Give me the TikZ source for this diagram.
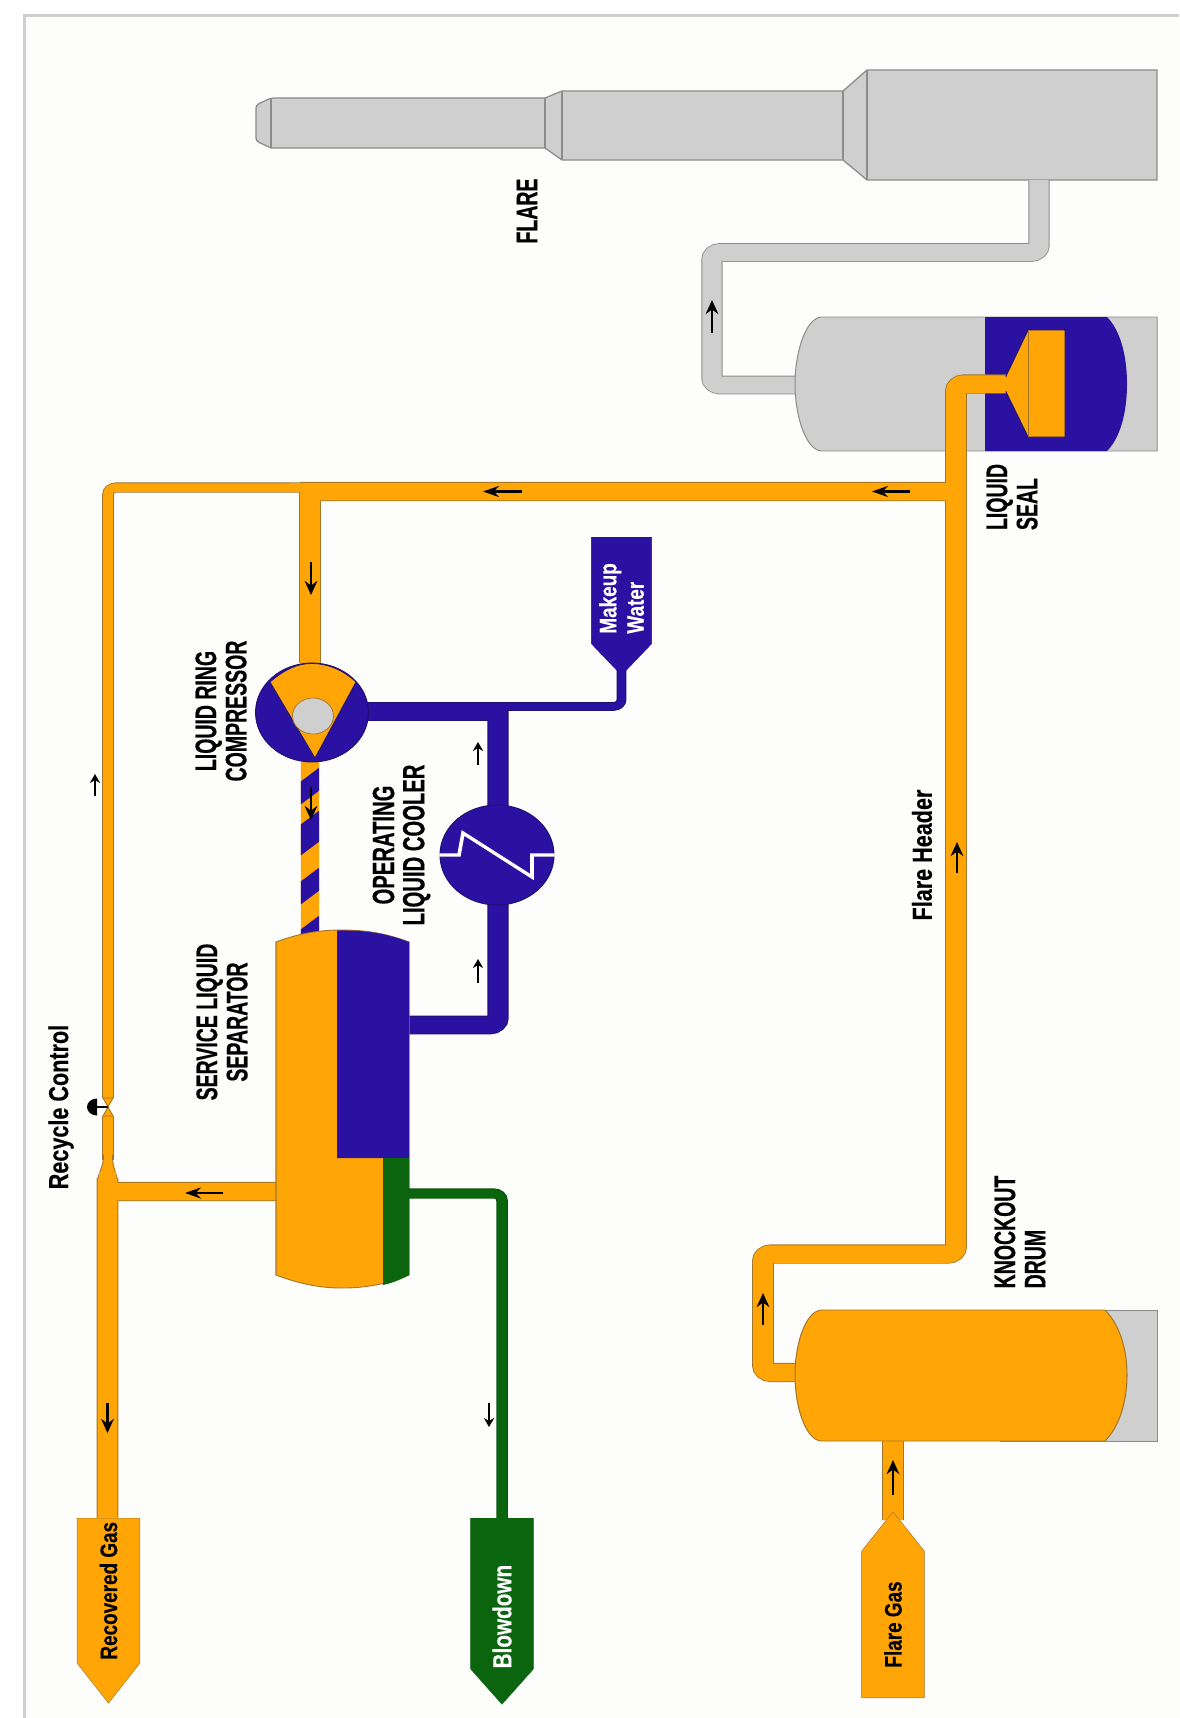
\documentclass[tikz,border=0pt]{standalone}
\usepackage{fontspec}
\usepackage{tikz}
\usetikzlibrary{arrows.meta,calc,shapes.symbols}
\newfontfamily\capsfont{Liberation Sans}[FakeStretch=.75,FakeBold=.5]
\newfontfamily\namefont{Liberation Sans}[FakeStretch=.9,FakeBold=.3]
\definecolor{gasorange}{HTML}{FFA505}
\definecolor{gasedge}{HTML}{A0762A}
\definecolor{waterblue}{HTML}{2A11A2}
\definecolor{wateredge}{HTML}{1E1070}
\definecolor{drainpipe}{HTML}{0B650F}
\definecolor{steelgrey}{HTML}{CFCFCF}
\definecolor{steeledge}{HTML}{8C8C8C}
\definecolor{paper}{HTML}{FDFDFB}
\begin{document}
\begin{tikzpicture}[
  x=1pt, y=-1pt,
  vessel/.style={fill=#1, line width=.9pt},
  pipe/.style n args={3}{line width=#1, draw=#2, rounded corners=7pt,
                         preaction={draw=#3, line width=#1+1.6pt}},
  gaspipe/.style={pipe={#1}{gasorange}{gasedge}},
  flow/.style={-{Stealth[length=14pt,width=11pt]}, line width=2.4pt, black},
  sideflow/.style={-{Stealth[length=9pt,width=9pt]}, line width=2pt, black},
  caption/.style={rotate=90, align=center, inner sep=0pt,
                  font=\capsfont\bfseries\fontsize{26}{26.5}\selectfont},
  tagline/.style={rotate=90, inner sep=0pt,
                  font=\namefont\bfseries\fontsize{24}{26}\selectfont},
  terminal/.style={signal, rotate=90, inner sep=0pt, minimum height=55pt,
                   draw=#1, align=center,
                   font=\namefont\bfseries\fontsize{21}{24}\selectfont},
]
\useasboundingbox (0,0) rectangle (1179,1718);
\fill[white] (0,0) rectangle (1179,1718);
\fill[paper] (24,16) rectangle (1179,1718);
\draw[steelgrey, line width=3pt] (24,1718) -- (24,16) -- (1179,16);

\begin{scope}[transform canvas={xscale=1.14}, x=0.8772pt]
\coordinate (flarefoot) at (1039,180);
\coordinate (sealout) at (795,385);
\coordinate (sealin) at (1010,384);
\coordinate (drumout) at (795,1372.5);
\coordinate (drumin) at (893,1441);
\coordinate (headertee) at (956,491.5);
\coordinate (suction) at (310,663);
\coordinate (sepwater) at (409,1025);
\coordinate (sepgas) at (276,1191.5);
\coordinate (sepdrain) at (409,1193.5);
\coordinate (recyclegap) at (108,1107);

% flare stack
\draw[vessel=steelgrey, draw=steeledge, line width=1.2pt]
  [rounded corners=3pt] (271,148) -- (256,141) -- (256,105) -- (271,98) [sharp corners]
  -- (545,98) -- (562,91) -- (843,91) -- (867,70)
  -- (1157,70) -- (1157,180) -- (867,180) -- (843,160) -- (562,160)
  -- (545,148) -- cycle;
\draw[steeledge, line width=1pt] (271,98) -- (271,148) (545,98) -- (545,148)
  (562,91) -- (562,160) (843,91) -- (843,160) (867,70) -- (867,180);

% grey line and liquid seal
\draw[pipe={17pt}{steelgrey}{steeledge}] (flarefoot) |- (712,252.5) |- (sealout);
\draw[vessel=steelgrey, draw=steeledge] (1157,317) -- (822,317)
  .. controls (806,317) and (795,352) .. (795,384)
  .. controls (795,416) and (806,451) .. (822,451) -- (1157,451) -- cycle;
\fill[waterblue] (985,317) -- (1107,317)
  .. controls (1120,330) and (1127,355) .. (1127,384)
  .. controls (1127,413) and (1120,438) .. (1107,451) -- (985,451) -- cycle;

% thin recycle line and valve
\draw[gaspipe=8.5pt] (310,487.5) -| (recyclegap |- 0,1098);
\draw[gaspipe=8.5pt] (recyclegap |- 0,1116) -- (108,1160);
\filldraw[draw=gasedge, fill=gasorange, line width=.8pt]
  (103,1098) -- (108,1107) -- (113,1098) -- cycle
  (103,1116) -- (108,1107) -- (113,1116) -- cycle;
\draw[black, line width=1.6pt] (recyclegap) -- (97,1107);
\fill[black] (97,1115.5) arc[start angle=90, end angle=270, x radius=10, y radius=8.5] -- cycle;

% flare header and gas lines
\draw[gaspipe=17.5pt]
  (drumout) -| (763,1254) -| (headertee |- sealin) -- (sealin)
  (headertee) -- (300,491.5)
  (310,483) -- (suction)
  (107.5,1178) -- (107.5,1518)
  (107.5,1191.5) -- (sepgas)
  (drumin) -- (893,1520);
\draw[gasorange, line width=8.5pt] (310,487.5) -- (290,487.5);
\filldraw[draw=gasedge, fill=gasorange, line width=.8pt]
  (103.6,1155) .. controls (103.6,1165) and (100,1170) .. (98,1178)
  -- (117,1178) .. controls (115,1170) and (112.4,1165) .. (112.4,1155) -- cycle;
\fill[gasorange] (98.6,1172) rectangle (116.4,1184);
\fill[gasorange] (104,1150) rectangle (112,1160);

% liquid bell
\filldraw[draw=wateredge, fill=gasorange, line width=.9pt]
  (1006,376) -- (1028,330) -- (1065,330) -- (1065,437) -- (1028,437) -- (1006,392) -- cycle;
\draw[gasedge, line width=.7pt] (1028,330) -- (1028,437);
\fill[gasorange] (990,377) rectangle (1010,391);

% water side
\draw[pipe={7pt}{waterblue}{wateredge}] (498,706.5) -| (621.5,650);
\draw[pipe={17pt}{waterblue}{wateredge}]
  (340,711.5) -- (498,711.5)
  (498,703) -- (498,1025) -- (sepwater);
\draw[waterblue, line width=7pt] (498,706.5) -- (515,706.5);

% striped discharge
\begin{scope}
\clip (300.8,762) rectangle (319.2,935);
\fill[gasorange] (300,762) rectangle (320,935);
\foreach \upper/\lower in {782/805, 825/856, 882/905, 930/950}
  \fill[waterblue] (300,\upper) -- (320,\upper-15) -- (320,\lower-15) -- (300,\lower) -- cycle;
\end{scope}

% separator
\draw[vessel=gasorange, draw=gasedge] (276,942)
  .. controls (300,933) and (320,930) .. (342,930)
  .. controls (365,930) and (385,933) .. (409,942) -- (409,1275)
  .. controls (388,1284) and (365,1288) .. (342,1288)
  .. controls (320,1288) and (300,1284) .. (276,1275) -- cycle;
\fill[waterblue] (337,930.5) .. controls (365,930) and (385,933) .. (409,942)
  -- (409,1158) -- (337,1158) -- cycle;
\fill[drainpipe] (383,1158) -- (409,1158) -- (409,1275)
  .. controls (400,1280) and (392,1283) .. (383,1285) -- cycle;

% blowdown
\draw[pipe={8.5pt}{drainpipe}{drainpipe!80!black}] (sepdrain) -| (502,1520);

% compressor
\node[circle, minimum size=99pt, inner sep=0pt, draw=wateredge, fill=waterblue,
      line width=.9pt] (compressor) at (312,712.5) {};
\filldraw[draw=wateredge, fill=gasorange, line width=.7pt] (270,682)
  .. controls (285,669) and (298,663.5) .. (312,663.5)
  .. controls (326,663.5) and (342,669) .. (356,682) -- (315,758) -- cycle;
\node[circle, minimum size=36pt, inner sep=0pt, draw=gasedge, fill=steelgrey,
      line width=.7pt] (shaft) at (313,716) {};

% cooler
\node[circle, minimum size=100pt, inner sep=0pt, draw=wateredge, fill=waterblue,
      line width=.9pt] (cooler) at (497,855) {};
\draw[white, line width=3.2pt] (cooler.west) -- (459,855) -- (463,833)
  -- (532,877) -- (532,855) -- (cooler.east);

% knockout drum
\draw[vessel=steelgrey, draw=steeledge] (1000,1310) rectangle (1157,1441);
\draw[vessel=gasorange, draw=gasedge] (822,1310) -- (1105,1310)
  .. controls (1120,1325) and (1127,1350) .. (1127,1375)
  .. controls (1127,1400) and (1120,1426) .. (1105,1441) -- (822,1441)
  .. controls (806,1441) and (795,1408) .. (795,1375)
  .. controls (795,1343) and (806,1310) .. (822,1310) -- cycle;

% end terminals
\node[terminal=gasedge, fill=gasorange, signal to=west, signal pointer angle=69,
      minimum width=185pt, anchor=east] (recovered) at (108.5,1518) {Recovered Gas};
\node[terminal=drainpipe, fill=drainpipe, text=white, signal to=west,
      signal pointer angle=76, minimum width=186pt, anchor=east,
      font=\namefont\bfseries\fontsize{23}{24}\selectfont] (blowdown)
      at (502,1518) {Blowdown\hspace*{46pt}};
\node[terminal=gasedge, fill=gasorange, signal to=east, signal pointer angle=70,
      minimum width=186pt, anchor=west] (flaregas) at (893,1698) {Flare Gas};
\node[terminal=waterblue, fill=waterblue, text=white, signal to=west, align=left,
      signal pointer angle=80, minimum width=138pt, minimum height=53pt, anchor=east]
      (makeup) at (621.5,537) {Makeup\hspace*{16pt}\\Water};

% flow arrows
\draw[flow] (522,491.5) -- (483,491.5);
\draw[flow] (910,491.5) -- (872,491.5);
\draw[flow] (311,562) -- (311,595);
\draw[flow] (311,787) -- (311,820);
\draw[sideflow] (478,765) -- (478,742);
\draw[sideflow] (478,983) -- (478,959);
\draw[flow] (712,333) -- (712,300);
\draw[flow] (223,1193) -- (185,1193);
\draw[flow] (763,1325) -- (763,1293);
\draw[flow] (893,1495) -- (893,1460);
\draw[flow] (957,873) -- (957,842);
\draw[sideflow] (95,796) -- (95,774);
\draw[flow] (107.5,1403) -- (107.5,1433);
\draw[sideflow] (489,1403) -- (489,1427);

% labels
\node[caption] (flarelabel) at (527,211) {FLARE};
\node[caption, align=left] (seallabel) at (1012,497) {LIQUID\\SEAL};
\node[caption, align=left] (drumlabel) at (1020,1232) {KNOCKOUT\\DRUM};
\node[caption] (compressorlabel) at (221,711) {LIQUID RING\\COMPRESSOR};
\node[caption, font=\capsfont\bfseries\fontsize{27}{26.5}\selectfont] (coolerlabel)
  at (401.5,845) {OPERATING\\LIQUID COOLER};
\node[caption] (separatorlabel) at (222,1022) {SERVICE LIQUID\\SEPARATOR};
\node[tagline] (recyclelabel) at (61,1107) {Recycle Control};
\node[tagline] (headerlabel) at (922,855) {Flare Header};
\end{scope}
\end{tikzpicture}
\end{document}
